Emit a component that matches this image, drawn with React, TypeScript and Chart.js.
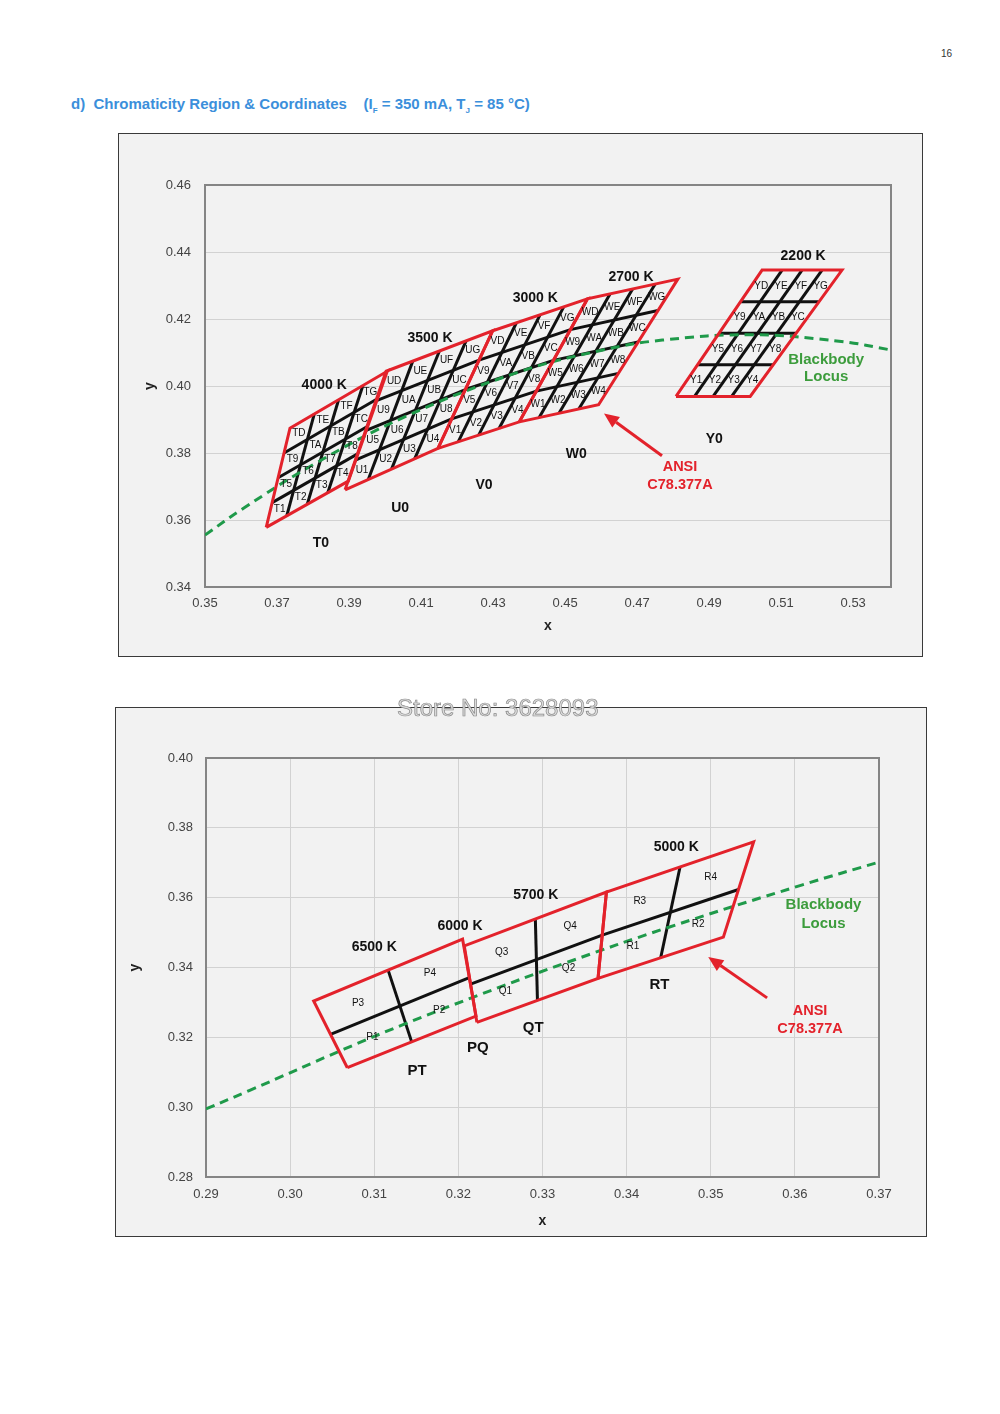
import React, { useEffect, useRef } from 'react';
import { Chart, registerables } from 'chart.js';

Chart.register(...registerables);

type Pt = [number, number];

// ---------------- Top chart (warm white) ----------------
const TOP_X_TICKS = [0.35, 0.37, 0.39, 0.41, 0.43, 0.45, 0.47, 0.49, 0.51, 0.53];
const TOP_Y_TICKS = [0.34, 0.36, 0.38, 0.40, 0.42, 0.44, 0.46];
const TOP_X_MIN = 0.35;
const TOP_X_MAX = 0.5405;
const TOP_Y_MIN = 0.34;
const TOP_Y_MAX = 0.46;

// quadrangle corners: bottom-left, bottom-right, top-right, top-left
const QUAD_4000K: Pt[] = [[0.3670, 0.3578], [0.3898, 0.3716], [0.4006, 0.4044], [0.3736, 0.3874]];
const QUAD_3500K: Pt[] = [[0.3889, 0.3690], [0.4147, 0.3814], [0.4299, 0.4165], [0.4003, 0.4044]];
const QUAD_3000K: Pt[] = [[0.4147, 0.3814], [0.4373, 0.3893], [0.4562, 0.4260], [0.4299, 0.4165]];
const QUAD_2700K: Pt[] = [[0.4373, 0.3893], [0.4593, 0.3944], [0.4813, 0.4319], [0.4562, 0.4260]];
const QUAD_2200K: Pt[] = [[0.4808, 0.3969], [0.5014, 0.3969], [0.5269, 0.4346], [0.5047, 0.4346]];
const TOP_BIN_PREFIX = ['T', 'U', 'V', 'W', 'Y'];
const TOP_BIN_SUFFIX = ['1', '2', '3', '4', '5', '6', '7', '8', '9', 'A', 'B', 'C', 'D', 'E', 'F', 'G'];

const TOP_LOCUS_X = [0.3500, 0.3608, 0.3805, 0.4053, 0.4369, 0.4599, 0.4770, 0.5018, 0.5267, 0.5403];
const TOP_LOCUS_Y = [0.3555, 0.3636, 0.3768, 0.3907, 0.4041, 0.4106, 0.4137, 0.4153, 0.4133, 0.4108];

const TOP_CCT_TEXT = ['4000 K', '3500 K', '3000 K', '2700 K', '2200 K'];
const TOP_CCT_AT: Pt[] = [[0.3831, 0.4004], [0.4125, 0.4142], [0.4417, 0.4262], [0.4683, 0.4325], [0.5161, 0.4387]];
const TOP_ZONE_TEXT = ['T0', 'U0', 'V0', 'W0', 'Y0'];
const TOP_ZONE_AT: Pt[] = [[0.3822, 0.3532], [0.4042, 0.3636], [0.4275, 0.3705], [0.4531, 0.3798], [0.4914, 0.3840]];
const TOP_LOCUS_LABEL_AT: Pt[] = [[0.5225, 0.4079], [0.5225, 0.4028]];
const TOP_ANSI_LABEL_AT: Pt[] = [[0.4819, 0.3759], [0.4819, 0.3705]];
const TOP_ARROW: Pt[] = [[0.4769, 0.3792], [0.4608, 0.3918]];

// ---------------- Bottom chart (cool white) ----------------
const BOT_X_TICKS = [0.29, 0.30, 0.31, 0.32, 0.33, 0.34, 0.35, 0.36, 0.37];
const BOT_Y_TICKS = [0.28, 0.30, 0.32, 0.34, 0.36, 0.38, 0.40];
const BOT_X_MIN = 0.29;
const BOT_X_MAX = 0.37;
const BOT_Y_MIN = 0.28;
const BOT_Y_MAX = 0.40;

const QUAD_6500K: Pt[] = [[0.3068, 0.3113], [0.3221, 0.3261], [0.3205, 0.3481], [0.3028, 0.3304]];
const QUAD_5700K: Pt[] = [[0.3222, 0.3243], [0.3366, 0.3369], [0.3376, 0.3616], [0.3207, 0.3462]];
const QUAD_5000K: Pt[] = [[0.3366, 0.3369], [0.3515, 0.3487], [0.3551, 0.3760], [0.3376, 0.3616]];
const BOT_BIN_PREFIX = ['P', 'Q', 'R'];
const BOT_BIN_SUFFIX = ['1', '2', '3', '4'];

const BOT_LOCUS_X = [0.2900, 0.2952, 0.3064, 0.3135, 0.3221, 0.3325, 0.3451, 0.3608, 0.3700];
const BOT_LOCUS_Y = [0.2995, 0.3048, 0.3166, 0.3237, 0.3318, 0.3411, 0.3516, 0.3636, 0.3702];

const BOT_CCT_TEXT = ['6500 K', '6000 K', '5700 K', '5000 K'];
const BOT_CCT_AT: Pt[] = [[0.3100, 0.3459], [0.3202, 0.3519], [0.3292, 0.3608], [0.3459, 0.3745]];
const BOT_ZONE_TEXT = ['PT', 'PQ', 'QT', 'RT'];
const BOT_ZONE_AT: Pt[] = [[0.3151, 0.3104], [0.3223, 0.3169], [0.3289, 0.3227], [0.3439, 0.3350]];
const BOT_LOCUS_LABEL_AT: Pt[] = [[0.3634, 0.3579], [0.3634, 0.3525]];
const BOT_ANSI_LABEL_AT: Pt[] = [[0.3618, 0.3275], [0.3618, 0.3224]];
const BOT_ARROW: Pt[] = [[0.3567, 0.3313], [0.3497, 0.3430]];

const LOCUS_TEXT = ['Blackbody', 'Locus'];
const ANSI_TEXT = ['ANSI', 'C78.377A'];

// ---------------- styles ----------------
const FONT = '"Liberation Sans", Arial, Helvetica, sans-serif';
const RED = '#e3222b';
const BLACK = '#111111';
const GREEN = '#1f9a4a';
const LABEL_GREEN = '#3c9c3c';

function lerp(a: Pt, b: Pt, t: number): Pt {
  return [a[0] + (b[0] - a[0]) * t, a[1] + (b[1] - a[1]) * t];
}
function bilinear(q: Pt[], u: number, v: number): Pt {
  const bottom = lerp(q[0], q[1], v);
  const top = lerp(q[3], q[2], v);
  return lerp(bottom, top, u);
}
function gridSegments(q: Pt[], n: number): Pt[][] {
  const segs: Pt[][] = [];
  for (let i = 1; i < n; i++) {
    segs.push([bilinear(q, 0, i / n), bilinear(q, 1, i / n)]);
    segs.push([bilinear(q, i / n, 0), bilinear(q, i / n, 1)]);
  }
  return segs;
}

interface TextItem { text: string; at: Pt; font: string; color: string; }
interface Spec {
  id: string;
  quads: Pt[][];
  div: number;
  prefixes: string[];
  suffixes: string[];
  subFont: string;
  locusX: number[];
  locusY: number[];
  texts: TextItem[];
  arrow: Pt[];
  xMin: number; xMax: number; yMin: number; yMax: number;
  xTicks: number[]; yTicks: number[];
  xGrid: boolean;
  padLeft: number; padTop: number; padRight: number;
  yAxisW: number; xAxisH: number;
  yTickPad: number; xTickPad: number;
  yTitlePad: number; xTitlePad: number;
  lineW: number;
}

function makeTexts(cct: string[], cctAt: Pt[], zone: string[], zoneAt: Pt[], locusAt: Pt[], ansiAt: Pt[], big: number): TextItem[] {
  const out: TextItem[] = [];
  cct.forEach((t, i) => out.push({ text: t, at: cctAt[i], font: `bold 14px ${FONT}`, color: '#111' }));
  zone.forEach((t, i) => out.push({ text: t, at: zoneAt[i], font: `bold ${big}px ${FONT}`, color: '#111' }));
  LOCUS_TEXT.forEach((t, i) => out.push({ text: t, at: locusAt[i], font: `bold 15px ${FONT}`, color: LABEL_GREEN }));
  ANSI_TEXT.forEach((t, i) => out.push({ text: t, at: ansiAt[i], font: `bold 14.5px ${FONT}`, color: RED }));
  return out;
}

function decorPlugin(spec: Spec) {
  return {
    id: 'decor_' + spec.id,
    beforeDatasetsDraw(chart: any) {
      const { ctx, chartArea: a } = chart;
      ctx.save();
      ctx.strokeStyle = '#858585';
      ctx.lineWidth = 2;
      ctx.strokeRect(a.left, a.top, a.right - a.left, a.bottom - a.top);
      ctx.restore();
    },
    afterDatasetsDraw(chart: any) {
      const { ctx, scales } = chart;
      const X = (v: number) => scales.x.getPixelForValue(v);
      const Y = (v: number) => scales.y.getPixelForValue(v);
      ctx.save();
      ctx.textAlign = 'center';
      ctx.textBaseline = 'middle';
      ctx.font = spec.subFont;
      ctx.fillStyle = '#111';
      spec.quads.forEach((q, k) => {
        const n = spec.div;
        for (let r = 0; r < n; r++) {
          for (let c = 0; c < n; c++) {
            const p = bilinear(q, (r + 0.5) / n, (c + 0.5) / n);
            ctx.fillText(spec.prefixes[k] + spec.suffixes[r * n + c], X(p[0]), Y(p[1]));
          }
        }
      });
      for (const t of spec.texts) {
        ctx.font = t.font;
        ctx.fillStyle = t.color;
        ctx.fillText(t.text, X(t.at[0]), Y(t.at[1]));
      }
      // arrow
      const x0 = X(spec.arrow[0][0]), y0 = Y(spec.arrow[0][1]);
      const x1 = X(spec.arrow[1][0]), y1 = Y(spec.arrow[1][1]);
      const ang = Math.atan2(y1 - y0, x1 - x0);
      const hl = 15, hw = 6.5;
      const bx = x1 - hl * Math.cos(ang), by = y1 - hl * Math.sin(ang);
      ctx.strokeStyle = RED;
      ctx.fillStyle = RED;
      ctx.lineWidth = 3;
      ctx.beginPath();
      ctx.moveTo(x0, y0);
      ctx.lineTo(bx, by);
      ctx.stroke();
      ctx.beginPath();
      ctx.moveTo(x1, y1);
      ctx.lineTo(bx + hw * Math.sin(ang), by - hw * Math.cos(ang));
      ctx.lineTo(bx - hw * Math.sin(ang), by + hw * Math.cos(ang));
      ctx.closePath();
      ctx.fill();
      ctx.restore();
    },
  };
}

function buildConfig(spec: Spec): any {
  const datasets: any[] = [];
  for (const q of spec.quads) {
    for (const seg of gridSegments(q, spec.div)) {
      datasets.push({
        data: seg.map((p) => ({ x: p[0], y: p[1] })),
        showLine: true, borderColor: BLACK, borderWidth: spec.lineW, pointRadius: 0, order: 3,
      });
    }
  }
  datasets.push({
    data: spec.locusX.map((x, i) => ({ x, y: spec.locusY[i] })),
    showLine: true, borderColor: GREEN, borderWidth: 3, borderDash: [9, 6], pointRadius: 0,
    tension: 0.4, order: 2,
  });
  for (const q of spec.quads) {
    datasets.push({
      data: [...q, q[0]].map((p) => ({ x: p[0], y: p[1] })),
      showLine: true, borderColor: RED, borderWidth: spec.lineW, pointRadius: 0, order: 1,
      borderJoinStyle: 'miter',
    });
  }
  const tickFont = { family: FONT, size: 13 };
  const titleFont = { family: FONT, size: 14, weight: 'bold' as const };
  return {
    type: 'scatter',
    data: { datasets },
    options: {
      responsive: false,
      animation: false,
      events: [],
      layout: { padding: { left: spec.padLeft, top: spec.padTop, right: spec.padRight, bottom: 0 } },
      plugins: { legend: { display: false }, tooltip: { enabled: false } },
      scales: {
        x: {
          type: 'linear', min: spec.xMin, max: spec.xMax,
          afterBuildTicks: (s: any) => { s.ticks = spec.xTicks.map((v) => ({ value: v })); },
          afterFit: (s: any) => { s.height = spec.xAxisH; },
          grid: { display: spec.xGrid, color: '#d2d2d2', lineWidth: 1, drawTicks: false },
          border: { display: false },
          ticks: {
            padding: spec.xTickPad, color: '#444', font: tickFont, maxRotation: 0, autoSkip: false,
            callback: (v: any) => Number(v).toFixed(2),
          },
          title: { display: true, text: 'x', color: '#222', font: titleFont, padding: { top: 0, bottom: spec.xTitlePad } },
        },
        y: {
          type: 'linear', min: spec.yMin, max: spec.yMax,
          afterBuildTicks: (s: any) => { s.ticks = spec.yTicks.map((v) => ({ value: v })); },
          afterFit: (s: any) => { s.width = spec.yAxisW; },
          grid: { display: true, color: '#d2d2d2', lineWidth: 1, drawTicks: false },
          border: { display: false },
          ticks: {
            padding: spec.yTickPad, color: '#444', font: tickFont, autoSkip: false,
            callback: (v: any) => Number(v).toFixed(2),
          },
          title: { display: true, text: 'y', color: '#222', font: titleFont, padding: { top: spec.yTitlePad, bottom: 0 } },
        },
      },
    },
    plugins: [decorPlugin(spec)],
  };
}

const TOP_SPEC: Spec = {
  id: 'top',
  quads: [QUAD_4000K, QUAD_3500K, QUAD_3000K, QUAD_2700K, QUAD_2200K],
  div: 4,
  prefixes: TOP_BIN_PREFIX,
  suffixes: TOP_BIN_SUFFIX,
  subFont: `10px ${FONT}`,
  locusX: TOP_LOCUS_X,
  locusY: TOP_LOCUS_Y,
  texts: makeTexts(TOP_CCT_TEXT, TOP_CCT_AT, TOP_ZONE_TEXT, TOP_ZONE_AT, TOP_LOCUS_LABEL_AT, TOP_ANSI_LABEL_AT, 14),
  arrow: TOP_ARROW,
  xMin: TOP_X_MIN, xMax: TOP_X_MAX, yMin: TOP_Y_MIN, yMax: TOP_Y_MAX,
  xTicks: TOP_X_TICKS, yTicks: TOP_Y_TICKS,
  xGrid: false,
  padLeft: 4, padTop: 51, padRight: 31,
  yAxisW: 82, xAxisH: 69,
  yTickPad: 14, xTickPad: 9,
  yTitlePad: 19, xTitlePad: 21,
  lineW: 3,
};

const BOT_SPEC: Spec = {
  id: 'bot',
  quads: [QUAD_6500K, QUAD_5700K, QUAD_5000K],
  div: 2,
  prefixes: BOT_BIN_PREFIX,
  suffixes: BOT_BIN_SUFFIX,
  subFont: `10px ${FONT}`,
  locusX: BOT_LOCUS_X,
  locusY: BOT_LOCUS_Y,
  texts: makeTexts(BOT_CCT_TEXT, BOT_CCT_AT, BOT_ZONE_TEXT, BOT_ZONE_AT, BOT_LOCUS_LABEL_AT, BOT_ANSI_LABEL_AT, 15),
  arrow: BOT_ARROW,
  xMin: BOT_X_MIN, xMax: BOT_X_MAX, yMin: BOT_Y_MIN, yMax: BOT_Y_MAX,
  xTicks: BOT_X_TICKS, yTicks: BOT_Y_TICKS,
  xGrid: true,
  padLeft: 4, padTop: 50, padRight: 47,
  yAxisW: 86, xAxisH: 59,
  yTickPad: 13, xTickPad: 10,
  yTitlePad: 7, xTitlePad: 6,
  lineW: 3,
};

function ChartBox(props: { spec: Spec; left: number; top: number; width: number; height: number }) {
  const { spec, left, top, width, height } = props;
  const ref = useRef<HTMLCanvasElement>(null);
  useEffect(() => {
    const chart = new Chart(ref.current as HTMLCanvasElement, buildConfig(spec));
    return () => chart.destroy();
  }, [spec]);
  return (
    <div style={{ position: 'absolute', left, top, width, height, background: '#f2f2f2', outline: '1.5px solid #3a3a3a' }}>
      <canvas ref={ref} width={width} height={height} style={{ display: 'block', width, height }} />
    </div>
  );
}

export default function App() {
  return (
    <div style={{ position: 'absolute', left: 0, top: 0, width: 1000, height: 1414, overflow: 'hidden', background: '#fff', fontFamily: FONT }}>
      <div style={{ position: 'absolute', left: 941, top: 48, fontSize: 10, color: '#333' }}>16</div>
      <div style={{ position: 'absolute', left: 71, top: 95, fontSize: 15, fontWeight: 'bold', color: '#3b8fdb', whiteSpace: 'pre' }}>
        {'d)  Chromaticity Region & Coordinates    (I'}
        <sub style={{ fontSize: 8 }}>F</sub>
        {' = 350 mA, T'}
        <sub style={{ fontSize: 8 }}>J</sub>
        {' = 85 °C)'}
      </div>
      <ChartBox spec={TOP_SPEC} left={119} top={134} width={803} height={522} />
      <ChartBox spec={BOT_SPEC} left={116} top={708} width={810} height={528} />
      <div style={{ position: 'absolute', left: 397, top: 694, fontSize: 24, color: '#dcdcdc', WebkitTextStroke: '0.7px #8a8a8a', whiteSpace: 'nowrap', zIndex: 5 }}>
        Store No: 3628093
      </div>
    </div>
  );
}
